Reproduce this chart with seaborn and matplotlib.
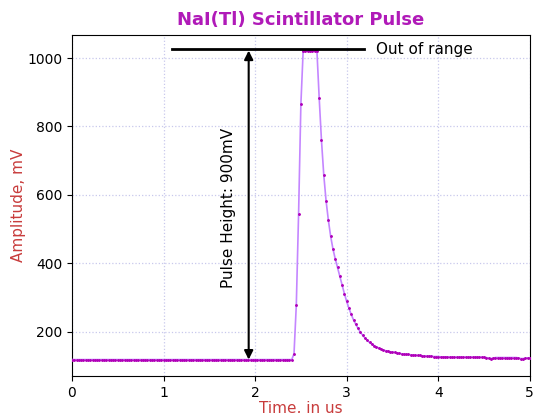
import numpy as np
import pandas as pd
import matplotlib
matplotlib.use("Agg")
import matplotlib.pyplot as plt
import seaborn as sns

# ---- data ----
dt = 0.025
baseline = [118] * 97                       # 0.000 .. 2.400 us
pulse = [135, 277, 545, 865,
         1022, 1022, 1022, 1022, 1022, 1022, 1022,
         883, 759, 658, 583, 526, 479, 442, 413, 388, 362,
         336, 311, 288, 268, 250, 234, 221, 209, 198, 189,
         181, 174, 168, 163, 159, 155, 152, 149, 146, 144,
         143, 141, 140, 139, 137, 136, 135, 134, 133, 133,
         132, 131, 131, 130, 130, 129, 129, 128, 128, 128,
         127, 127, 127, 126, 126, 126, 126, 125, 125, 125,
         125, 125, 125, 125, 125, 125, 125, 125, 125, 125,
         125, 125, 125, 124, 122, 121, 122, 124, 124, 124,
         124, 124, 124, 124, 124, 124, 124, 123, 121, 121,
         122, 123, 123, 123, 123, 123]
amplitude = baseline + pulse
time_us = np.arange(len(amplitude)) * dt

title = "NaI(Tl) Scintillator Pulse"
xlabel = "Time, in us"
ylabel = "Amplitude, mV"
height_label = "Pulse Height: 900mV"
range_label = "Out of range"
arrow_x = 1.93
arrow_bottom = 118
arrow_top = 1022
range_line_y = 1026
range_line_x = [1.09, 3.19]

df = pd.DataFrame({"t": time_us, "a": amplitude})

fig = plt.figure(figsize=(5.33, 4.13), dpi=100)
ax = fig.add_axes([0.135, 0.0896, 0.859, 0.826])

sns.lineplot(data=df, x="t", y="a", ax=ax, color="#c486ff", lw=1.2,
             marker="o", markersize=1.3, markerfacecolor="#b000b8",
             markeredgecolor="#b000b8", zorder=3)

ax.set_xlim(0, 5)
ax.set_ylim(70, 1068)
ax.set_xticks([0, 1, 2, 3, 4, 5])
ax.set_yticks([200, 400, 600, 800, 1000])
ax.grid(True, linestyle=":", color="#c8c8ec", lw=0.9)
ax.set_axisbelow(True)

ax.plot(range_line_x, [range_line_y, range_line_y], color="black", lw=2, zorder=4)
ax.text(3.32, range_line_y, range_label, fontsize=11, va="center", ha="left")

ax.annotate("", xy=(arrow_x, arrow_top), xytext=(arrow_x, arrow_bottom),
            arrowprops=dict(arrowstyle="<|-|>", color="black", lw=1.5,
                            mutation_scale=13, shrinkA=0, shrinkB=0), zorder=5)
ax.text(1.71, 563, height_label, rotation=90, fontsize=11,
        va="center", ha="center")

ax.set_title(title, color="#b01ab8", fontsize=13, fontweight="bold", pad=7)
ax.set_xlabel(xlabel, color="#c83c3c", fontsize=11, labelpad=1)
ax.set_ylabel(ylabel, color="#c83c3c", fontsize=11, labelpad=1)

fig.savefig("out.png", dpi=100)
